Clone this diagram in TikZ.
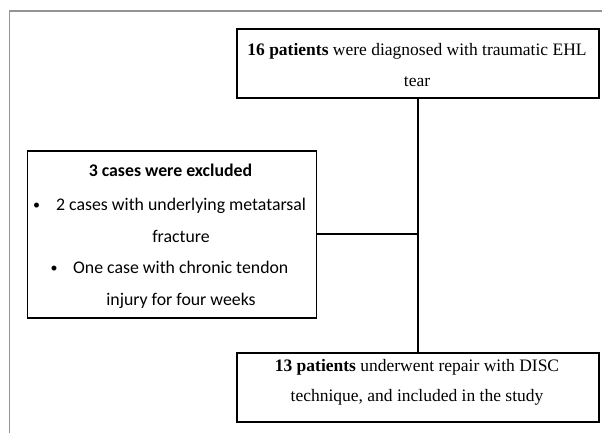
\documentclass[tikz,border=0pt]{standalone}
\usepackage{fontspec}
\setmainfont{Liberation Serif}
\newfontfamily\calibri{Carlito}
\begin{document}
\begin{tikzpicture}[x=1pt,y=-1pt,
  boxstyle/.style={draw=black, line width=1.8pt, inner sep=0pt, anchor=north west},
  link/.style={draw=black, line width=2.2pt},
  serif/.style={font=\fontsize{17.5}{20}\selectfont, anchor=base, inner sep=0pt},
  sans/.style={font=\calibri\fontsize{17.8}{20}\selectfont, anchor=base, inner sep=0pt},
  sansw/.style={font=\calibri\fontsize{17.8}{20}\selectfont, anchor=base west, inner sep=0pt},
  dot/.style={font=\calibri\fontsize{14}{16}\selectfont, anchor=base, inner sep=0pt}]
\useasboundingbox (0,0) rectangle (602,432);
\fill[white] (0,0) rectangle (602,432);
\draw[color=black!42, line width=1.5pt] (9.5,440) -- (9.5,10.8) -- (612,10.8);
% boxes
\node[boxstyle, minimum width=362pt, minimum height=68.5pt] (top) at (236,28.3) {};
\node[boxstyle, minimum width=289pt, minimum height=166.7pt] (excl) at (26.5,150) {};
\node[boxstyle, minimum width=362pt, minimum height=69pt] (bot) at (236,352) {};
% connectors
\coordinate (j) at (top.south |- excl.east);
\draw[link] (top.south) -- (bot.north);
\draw[link] (excl.east) -- (j);
% top text
\node[serif] (t1) at (417,55) {\textbf{16 patients} were diagnosed with traumatic EHL};
\node[serif] (t2) at (417,86.7) {tear};
% excluded text
\node[sans] (e0) at (170.5,176.7) {\textbf{3 cases were excluded}};
\node[dot] (b1) at (36.7,209) {\textbullet};
\node[sansw] (e1) at (56,210) {2 cases with underlying metatarsal};
\node[sans] (e2) at (181,242) {fracture};
\node[dot] (b2) at (54,272.5) {\textbullet};
\node[sansw] (e3) at (73,273.3) {One case with chronic tendon};
\node[sans] (e4) at (181,305) {injury for four weeks};
% bottom text
\node[serif] (u1) at (417,371.7) {\textbf{13 patients} underwent repair with DISC};
\node[serif] (u2) at (417,401.5) {technique, and included in the study};
\end{tikzpicture}
\end{document}
